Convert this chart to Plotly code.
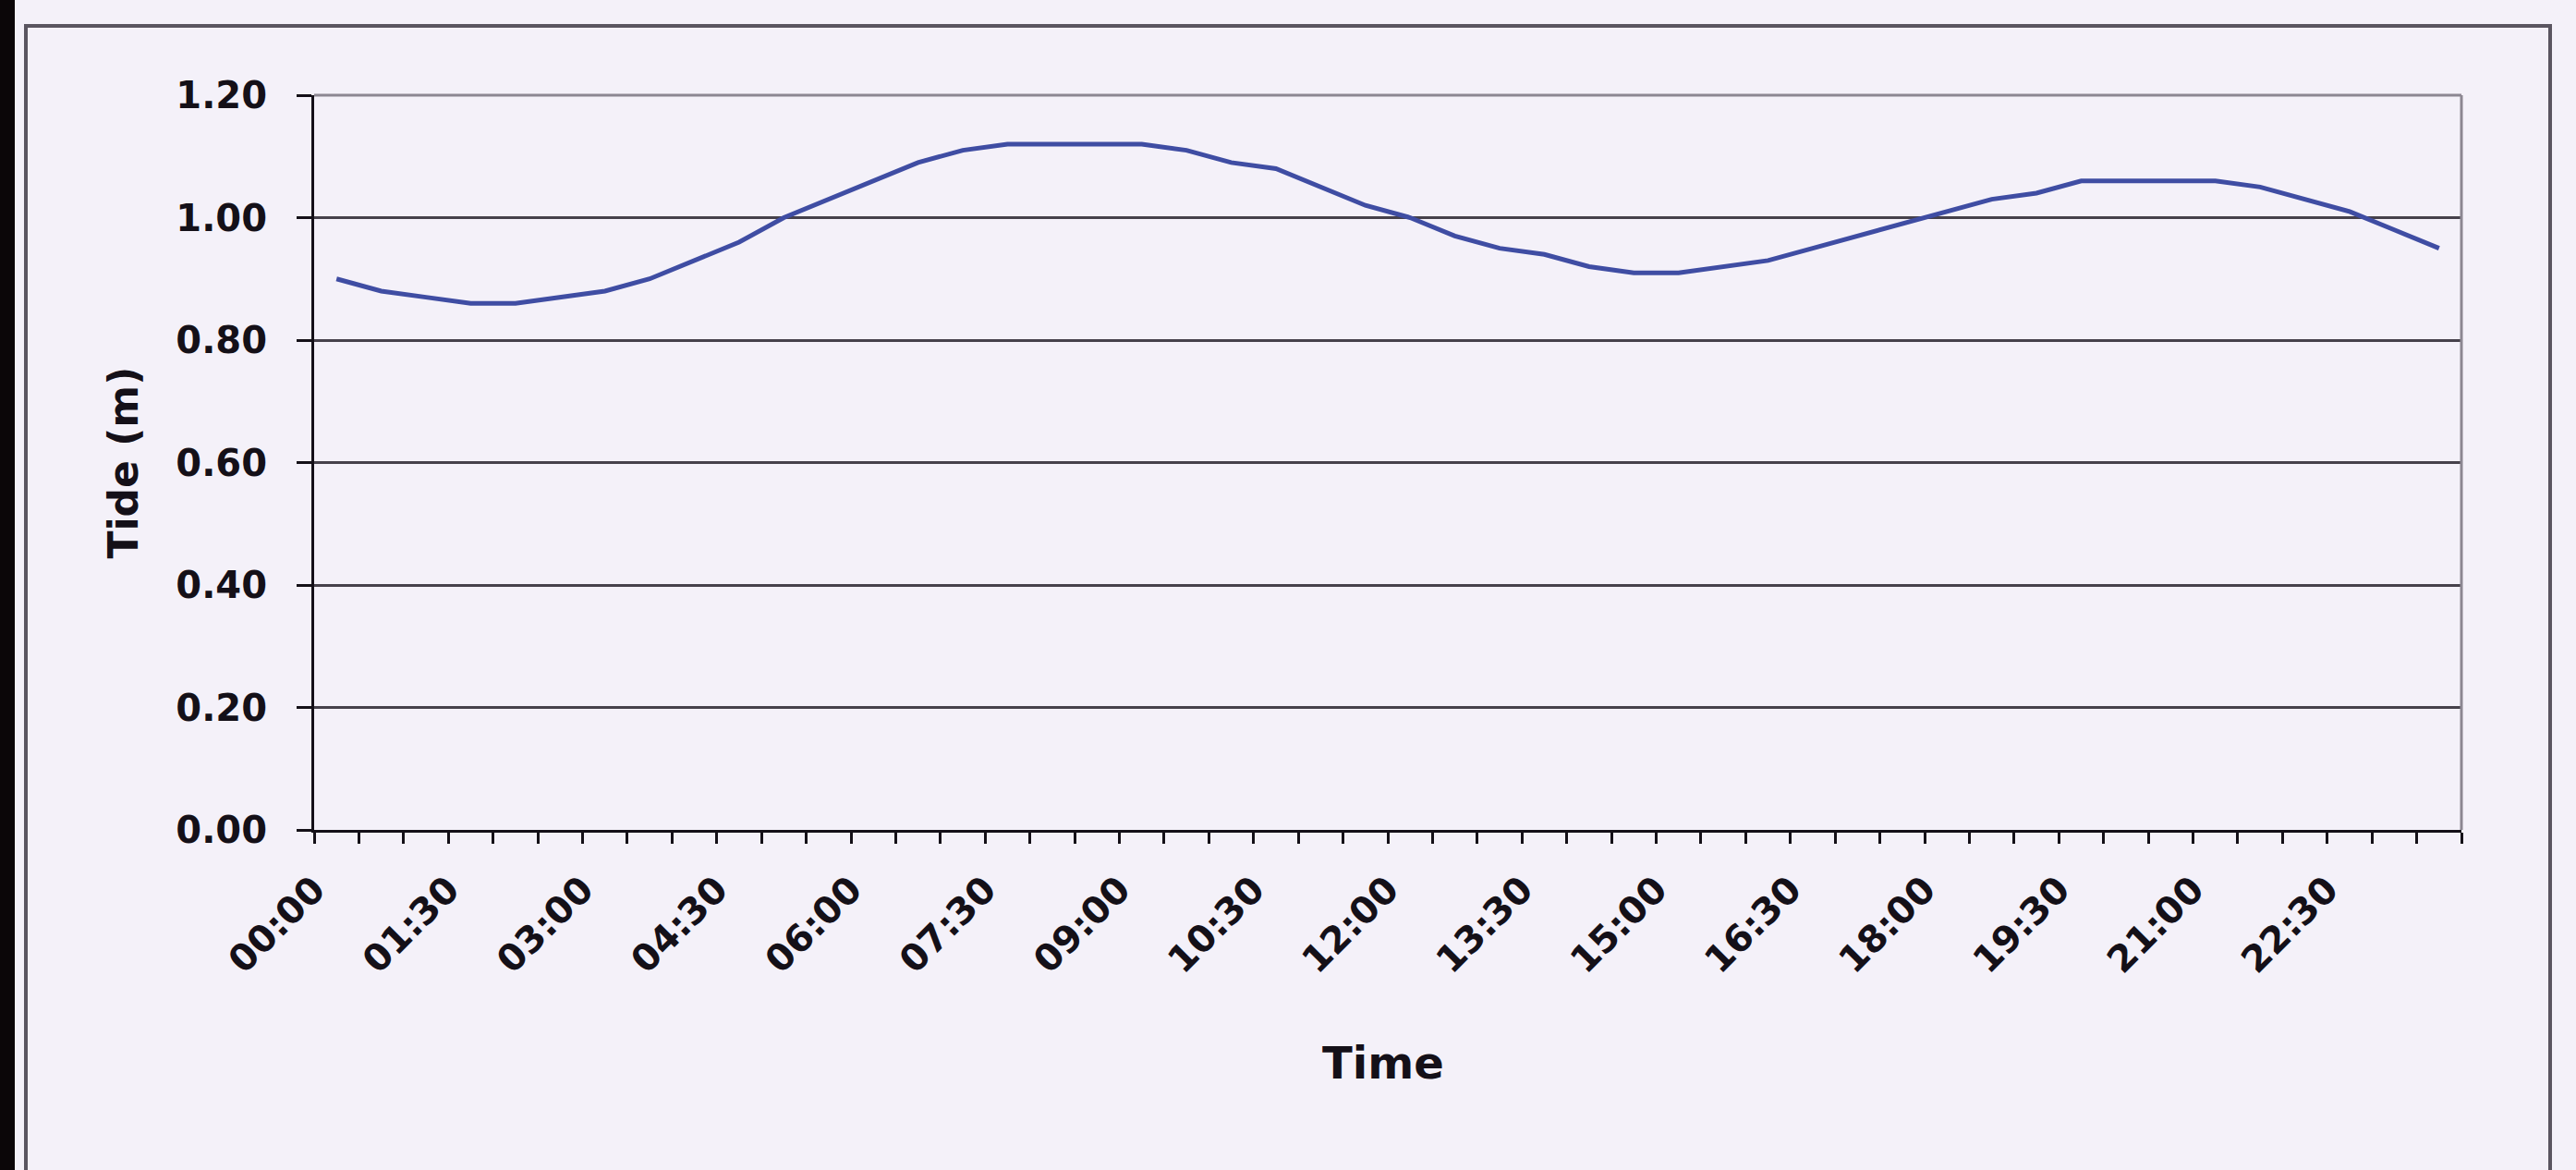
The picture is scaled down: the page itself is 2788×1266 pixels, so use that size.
import plotly.graph_objects as go

# Half-hourly tide readings over one day
times = [
    "00:00", "00:30", "01:00", "01:30", "02:00", "02:30", "03:00", "03:30",
    "04:00", "04:30", "05:00", "05:30", "06:00", "06:30", "07:00", "07:30",
    "08:00", "08:30", "09:00", "09:30", "10:00", "10:30", "11:00", "11:30",
    "12:00", "12:30", "13:00", "13:30", "14:00", "14:30", "15:00", "15:30",
    "16:00", "16:30", "17:00", "17:30", "18:00", "18:30", "19:00", "19:30",
    "20:00", "20:30", "21:00", "21:30", "22:00", "22:30", "23:00", "23:30",
]
tide_m = [
    0.90, 0.88, 0.87, 0.86, 0.86, 0.87, 0.88, 0.90,
    0.93, 0.96, 1.00, 1.03, 1.06, 1.09, 1.11, 1.12,
    1.12, 1.12, 1.12, 1.11, 1.09, 1.08, 1.05, 1.02,
    1.00, 0.97, 0.95, 0.94, 0.92, 0.91, 0.91, 0.92,
    0.93, 0.95, 0.97, 0.99, 1.01, 1.03, 1.04, 1.06,
    1.06, 1.06, 1.06, 1.05, 1.03, 1.01, 0.98, 0.95,
]
label_every = 3
y_ticks = [0.0, 0.2, 0.4, 0.6, 0.8, 1.0, 1.2]

W, H = 2788, 1266
L, R, T, B = 340, 124, 103, 368
pw, ph = W - L - R, H - T - B

BG = "#F4F1F9"
INK = "#141018"
GRID = "#46414B"
FONT = "DejaVu Sans, Liberation Sans, Arial, sans-serif"

n = len(times)
idx = list(range(n))
boundaries = [i - 0.5 for i in range(n + 1)]
label_pos = [i - 0.5 for i in range(0, n, label_every)]
label_txt = [times[i] for i in range(0, n, label_every)]

fig = go.Figure()
fig.add_trace(go.Scatter(
    x=idx, y=tide_m, mode="lines",
    line=dict(color="#3F4DA3", width=5),
    hoverinfo="skip", showlegend=False,
))


def px_x(p):
    return (p - L) / pw


def px_y(p):
    return 1 - (p - T) / ph


fig.update_layout(
    width=W, height=H,
    margin=dict(l=L, r=R, t=T, b=B, pad=0),
    paper_bgcolor=BG, plot_bgcolor=BG,
    font=dict(family=FONT, color=INK),
    xaxis=dict(
        range=[-0.5, n - 0.5], showgrid=False, zeroline=False,
        tickmode="array", tickvals=label_pos, ticktext=label_txt,
        tickangle=-45, ticks="outside", ticklen=12, tickwidth=3, tickcolor=INK,
        tickfont=dict(size=40, family=FONT, weight="bold", color=INK),
        ticklabelstandoff=10,
        minor=dict(tickvals=boundaries, ticks="outside", ticklen=12,
                   tickwidth=3, tickcolor=INK, showgrid=False),
        showline=True, linecolor=INK, linewidth=3,
        automargin=False, fixedrange=True,
    ),
    yaxis=dict(
        range=[0, 1.2], tickmode="array", tickvals=y_ticks,
        tickformat=".2f", showgrid=True, gridcolor=GRID, gridwidth=3,
        zeroline=False, ticks="outside", ticklen=16, tickwidth=3, tickcolor=INK,
        tickfont=dict(size=40, family=FONT, weight="bold", color=INK),
        ticklabelstandoff=24,
        showline=True, linecolor=INK, linewidth=3,
        automargin=False, fixedrange=True,
    ),
    shapes=[
        # scanned page edge on the left
        dict(type="rect", xref="paper", yref="paper",
             x0=px_x(0), x1=px_x(16), y0=px_y(H + 20), y1=px_y(-20),
             fillcolor="#0B0608", line=dict(width=0), layer="below"),
        # chart frame
        dict(type="rect", xref="paper", yref="paper",
             x0=px_x(28), x1=px_x(2760), y0=px_y(H + 30), y1=px_y(28),
             fillcolor="rgba(0,0,0,0)", line=dict(color="#5A5560", width=4),
             layer="above"),
        # plot-area border (top and right)
        dict(type="line", xref="paper", yref="paper",
             x0=0, x1=1, y0=1, y1=1, line=dict(color="#8C8792", width=3)),
        dict(type="line", xref="paper", yref="paper",
             x0=1, x1=1, y0=0, y1=1, line=dict(color="#8C8792", width=3)),
    ],
    annotations=[
        dict(text="<b>Tide (m)</b>", xref="paper", yref="paper",
             x=px_x(133), y=0.5, xanchor="center", yanchor="middle",
             textangle=-90, showarrow=False,
             font=dict(size=44, family=FONT, color=INK)),
        dict(text="<b>Time</b>", xref="paper", yref="paper",
             x=px_x(1497), y=px_y(1150), xanchor="center", yanchor="middle",
             showarrow=False, font=dict(size=48, family=FONT, color=INK)),
    ],
)

fig.write_html("out.html", config={"displayModeBar": False})
